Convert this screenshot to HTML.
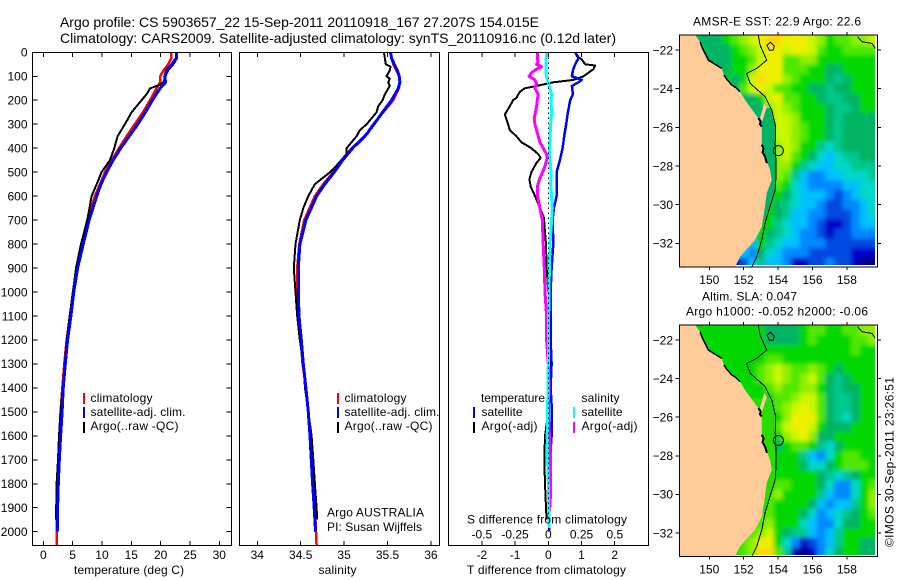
<!DOCTYPE html>
<html>
<head>
<meta charset="utf-8">
<title>Argo profile</title>
<style>
html,body{margin:0;padding:0;background:#fff;}
svg{display:block;}
text{font-family:"Liberation Sans",sans-serif;font-size:12px;fill:#000;}
.t{font-size:14px;}
</style>
</head>
<body>
<svg id="fig" xmlns="http://www.w3.org/2000/svg" width="900" height="580" viewBox="0 0 900 580">
<defs>
<filter id="soft" x="-5%" y="-5%" width="110%" height="110%"><feGaussianBlur stdDeviation="2"/></filter>
<clipPath id="clipMapA"><rect x="679.5" y="35" width="195.5" height="230"/></clipPath>
<clipPath id="clipMapB"><rect x="679.5" y="324.5" width="195.5" height="230.5"/></clipPath>
<clipPath id="clipP1"><rect x="32.5" y="52" width="199" height="494"/></clipPath>
<clipPath id="clipP2"><rect x="239.5" y="52" width="200" height="494"/></clipPath>
<clipPath id="clipP3"><rect x="448.5" y="52" width="200" height="494"/></clipPath>
</defs>
<rect width="900" height="580" fill="#fff"/>
<text class="t" x="60" y="27" textLength="479" lengthAdjust="spacing">Argo profile: CS 5903657_22 15-Sep-2011 20110918_167 27.207S 154.015E</text>
<text class="t" x="60" y="43" textLength="556" lengthAdjust="spacing">Climatology: CARS2009. Satellite-adjusted climatology: synTS_20110916.nc (0.12d later)</text>

<g id="layerP1" clip-path="url(#clipP1)"></g>
<g id="layerP2" clip-path="url(#clipP2)"></g>
<g id="layerP3" clip-path="url(#clipP3)"></g>
<g id="axes"></g>

<text x="74" y="574" textLength="110">temperature (deg C)</text>
<text x="318.5" y="574" textLength="38">salinity</text>
<text x="467" y="574" textLength="159">T difference from climatology</text>
<text x="467" y="523.5" textLength="160">S difference from climatology</text>

<g>
<rect x="83" y="393" width="2" height="11" fill="#f00"/>
<rect x="83" y="407" width="2" height="11" fill="#00f"/>
<rect x="83" y="422" width="2" height="11" fill="#000"/>
<text x="90.5" y="402" textLength="62">climatology</text>
<text x="90.5" y="416" textLength="95">satellite-adj. clim.</text>
<text x="90.5" y="430" textLength="88">Argo(..raw -QC)</text>
</g>
<g>
<rect x="337" y="393" width="2" height="11" fill="#f00"/>
<rect x="337" y="407" width="2" height="11" fill="#00f"/>
<rect x="337" y="422" width="2" height="11" fill="#000"/>
<text x="344.5" y="402" textLength="62">climatology</text>
<text x="344.5" y="416" textLength="95">satellite-adj. clim.</text>
<text x="344.5" y="430" textLength="88">Argo(..raw -QC)</text>
<text x="327" y="516.5" textLength="97">Argo AUSTRALIA</text>
<text x="327" y="531" textLength="95">PI: Susan Wijffels</text>
</g>
<g>
<text x="481" y="402" textLength="64">temperature</text>
<rect x="473" y="407" width="2" height="11" fill="#00f"/>
<text x="481.5" y="416" textLength="41">satellite</text>
<rect x="473" y="422" width="2" height="11" fill="#000"/>
<text x="481.5" y="430" textLength="56">Argo(-adj)</text>
<text x="581.5" y="402" textLength="38">salinity</text>
<rect x="573" y="407" width="2" height="11" fill="#0ff"/>
<text x="581.5" y="416" textLength="41">satellite</text>
<rect x="573" y="422" width="2" height="11" fill="#f0f"/>
<text x="581.5" y="430" textLength="56">Argo(-adj)</text>
</g>

<g id="mapA"></g>
<g id="mapB"></g>
<text x="693" y="25.5" textLength="168">AMSR-E SST: 22.9 Argo: 22.6</text>
<text x="702" y="300.5" textLength="95">Altim. SLA: 0.047</text>
<text x="686" y="315.5" textLength="182">Argo h1000: -0.052 h2000: -0.06</text>
<text transform="translate(893.5 547) rotate(-90)" textLength="170">©IMOS 30-Sep-2011 23:26:51</text>
</svg>

<script>
// ---- profile data (depth in m, temperature in deg C, salinity in psu) ----
const depthClim = [0,25,50,75,100,125,150,200,250,300,350,400,450,500,550,600,700,800,900,1000,1100,1200,1300,1400,1500,1600,1700,1800,1900,2000,2057];
const depthSat = [0,25,50,75,100,125,150,200,250,300,350,400,450,500,550,600,700,800,900,1000,1100,1200,1300,1400,1500,1600,1700,1800,1900,2000];
const tempClim = [21.8,21.8,21.3,20.5,19.9,19.9,19.3,18.2,17.0,15.6,14.2,12.9,11.65,10.5,9.66,8.8,7.5,6.53,5.68,5.06,4.55,3.98,3.58,3.24,2.95,2.73,2.56,2.39,2.33,2.27,2.27];
const tempSat = [22.67,22.67,21.9,21.0,20.7,20.85,19.9,18.6,17.4,16.1,14.66,13.2,11.9,10.8,9.83,9.1,7.8,6.8,5.85,5.2,4.7,4.15,3.75,3.4,3.2,2.95,2.73,2.56,2.44,2.39];
const depthArgoT = [0,25,50,75,90,110,125,135,150,175,200,250,300,350,400,450,500,550,600,700,800,900,1000,1100,1200,1300,1400,1500,1600,1700,1800,1900,1950];
const tempArgo = [22.67,22.8,22.16,21.3,21,20.7,20.45,19.9,18.2,17.6,16.76,15.06,13.9,12.67,12.1,11.36,9.94,9.1,8.24,7.5,6.42,5.57,5.06,4.49,3.98,3.64,3.3,2.95,2.67,2.5,2.27,2.2,2.2];
const salClim = [35.535,35.547,35.566,35.6,35.635,35.643,35.63,35.566,35.45,35.336,35.24,35.086,34.97,34.875,34.76,34.664,34.54,34.484,34.46,34.46,34.47,34.5,34.522,34.56,34.587,34.607,34.626,34.637,34.664,34.676,34.683];
const salSat = [35.535,35.547,35.578,35.612,35.635,35.643,35.624,35.547,35.443,35.344,35.24,35.098,34.983,34.887,34.779,34.683,34.56,34.491,34.472,34.472,34.48,34.507,34.53,34.56,34.587,34.607,34.622,34.637,34.656,34.672];
const depthArgoS = [0,25,50,60,75,100,110,125,140,175,200,225,250,300,325,350,400,425,450,500,550,600,650,700,800,900,1000,1100,1200,1300,1400,1500,1600,1700,1800,1900,1950];
const salArgo = [35.459,35.47,35.48,35.535,35.527,35.489,35.527,35.508,35.527,35.47,35.443,35.393,35.374,35.26,35.182,35.144,35.029,35.029,34.97,34.84,34.664,34.587,34.53,34.49,34.44,34.42,34.44,34.46,34.49,34.53,34.55,34.587,34.626,34.645,34.664,34.683,34.69];
const depthDiffTArgo = [0,20,30,50,55,70,85,100,115,125,140,150,165,190,200,225,260,300,325,350,375,400,425,440,460,500,530,560,600,650,690,750,800,900,1000,1100,1200,1300,1400,1500,1600,1700,1800,1900,1950];
const diffTArgo = [0.81,0.91,1.01,1.11,1.41,1.36,1.21,1.06,0.76,0.15,-0.35,-0.71,-0.86,-0.96,-1.06,-1.16,-1.31,-1.21,-1.16,-0.96,-0.81,-0.51,-0.3,-0.23,-0.35,-0.51,-0.57,-0.53,-0.4,-0.25,-0.13,-0.1,-0.07,-0.05,0,0.03,0.05,0.07,0.05,0,-0.1,-0.12,-0.1,-0.07,-0.05];
const depthDiffTSat = [0,25,50,75,100,115,125,140,175,200,250,300,350,400,450,500,550,600,650,700,800,900,1000,1100,1200,1300,1400,1500,1600,1700,1800,1900,2000];
const diffTSat = [0.81,0.91,0.81,0.74,0.71,1.01,0.91,0.71,0.74,0.66,0.59,0.54,0.48,0.43,0.35,0.25,0.25,0.25,0.17,0.13,0.15,0.1,0.07,0.08,0.07,0.1,0.07,0.11,0.1,0.05,0.05,0.03,0.02];
const depthDiffSSat = [0,50,100,125,150,175,200,250,300,350,400,450,500,550,600,650,700,800,900,1000,1100,1200,1300,1400,1500,1600,1700,1800,1900,1985];
const diffSSat = [-0.013,-0.018,-0.015,0,0.013,0.025,0.02,0.025,0.018,0.013,0.008,0.013,0.02,0.018,0.025,0.03,0.025,0.013,0.008,0.005,0.003,0,0,-0.003,-0.005,-0.008,-0.005,0,0.003,0.005];
const depthDiffSArgo = [0,25,40,50,60,70,85,100,115,130,150,175,200,225,250,275,300,325,350,375,400,425,440,475,500,525,560,600,650,700,800,900,1000,1100,1200,1300,1400,1500,1600,1700,1800,1900];
const diffSArgo = [-0.081,-0.083,-0.076,-0.088,-0.05,-0.088,-0.126,-0.144,-0.101,-0.088,-0.101,-0.076,-0.083,-0.088,-0.096,-0.106,-0.101,-0.088,-0.076,-0.063,-0.038,-0.013,-0.008,-0.025,-0.043,-0.063,-0.083,-0.081,-0.063,-0.045,-0.038,-0.03,-0.025,-0.013,-0.013,0,0.005,0,0.008,0.018,0.018,0.013];

// ---- tick values ----
const depthTicks = [0,100,200,300,400,500,600,700,800,900,1000,1100,1200,1300,1400,1500,1600,1700,1800,1900,2000];
const tempTicks = [0,5,10,15,20,25,30];
const salTicks = [34,34.5,35,35.5,36];
const diffTTicks = [-2,-1,0,1,2];
const diffSTicks = [-0.5,-0.25,0,0.25,0.5];
const lonTicks = [150,152,154,156,158];
const latTicks = [-22,-24,-26,-28,-30,-32];

// ---- map data: one character per 0.5 degree cell, colour level 0 (coldest) .. e (warmest) ----
const mapLons = [148.5,149,149.5,150,150.5,151,151.5,152,152.5,153,153.5,154,154.5,155,155.5,156,156.5,157,157.5,158,158.5,159,159.5];
const mapLats = [-21.5,-22,-22.5,-23,-23.5,-24,-24.5,-25,-25.5,-26,-26.5,-27,-27.5,-28,-28.5,-29,-29.5,-30,-30.5,-31,-31.5,-32,-32.5,-33];
const sstRows = [
"8877789abcddcccba899aab",
"88877789abccbccb9889999",
"888777889bcc99aa8888888",
"88877788accc99988778888",
"88888878bdcca9888767888",
"88888887 9bcb99887767788".replace(" ","").slice(1),
"8888888778bc99887667788",
"8888888877aba9888766788",
"888888888"+"89bba888767777",
"888888888"+"78bba98876777 7".replace(" ",""),
"888888888"+"78bba98876777 7".replace(" ",""),
"888888888"+"68aba88656777 7".replace(" ",""),
"8888888888"+"7ab987545667 7".replace(" ",""),
"8888888888"+"8aa865445566 6".replace(" ",""),
"8888888888"+"7a964334455 56".replace(" ",""),
"8888888888"+"7985433334455",
"888888888"+"78875444323455",
"888888888"+"78765443223345",
"888888888"+"78764433222345",
"888888888"+"88654432112344",
"88888888"+"787654332122333",
"88888888"+"486544333222222",
"8888888"+"4375433322222111",
"888888"+"12464431122322100"
];
const slaRows = [
"8888888888"+"7777899889 9aa".replace(" ",""),
"8888888888"+"777789888899a",
"8888888888"+"8888888888988",
"8888888888"+"9988888888888",
"888888888"+"9aba99a9878888",
"888888888"+"9aba9ab9767888",
"888888888"+"89a99aa8767788",
"888888888"+"8899abb9766788",
"888888888"+"889abcb9766788",
"888888888"+"888accc9765788",
"888888888"+"889bccb8777888",
"888888888"+"888abca7788888",
"888888888"+"88789986578888",
"888888888"+"88888643589988",
"888888888"+"88888755789998",
"888888888"+"88888887656788",
"888888888"+"88998887533589",
"888888888"+"89a8888643358a",
"888888888"+"8988887434468a",
"888888888"+"99888753456789",
"888888888"+"9a888543357788",
"88888888"+"9ab876643468888",
"8888888"+"9acc853123468877",
"888888"+"89add961013578877"
];

// ---- coast, contour and island outlines in lon / lat ----
const coastLons = [149.17,149.46,149.65,149.94,150.72,150.85,151.3,151.79,152.08,152.85,153.05,153.05,153.24,153.53,153.63,153.34,153.24,153.05,152.66,151.79,151.5];
const coastLats = [-21.22,-21.57,-22,-22.52,-22.95,-23.29,-23.81,-24.16,-24.59,-25.53,-25.97,-26.83,-27.52,-28.2,-28.72,-29.41,-30.1,-31.14,-31.83,-32.69,-33.22];
const contourLons = [152.85,152.95,153.34,152.76,152.17,152.37,153.24,153.63,153.86,153.83,153.88,153.88,153.83,153.53,153.24,153.05,152.76,152.47];
const contourLats = [-21.22,-21.74,-22.52,-22.95,-23.21,-23.72,-24.41,-25.1,-25.97,-26.83,-27.86,-28.55,-29.24,-30.1,-30.97,-31.83,-32.69,-33.22];
const contourNeLons = [158.62,158.87,159.46,159.65];
const contourNeLats = [-21.31,-21.57,-21.66,-21.91];
const shelfLons = [153.55,153.63,153.86,153.83,153.88,153.88,153.83,153.53,153.24,152.5,152.5];
const shelfLats = [-25.0,-25.3,-25.97,-26.83,-27.86,-28.55,-29.24,-30.1,-30.97,-30.97,-25.0];
const jagNorthLons = [149.46,149.55,149.65,149.8,149.94,150.3,150.72];
const jagNorthLats = [-21.57,-21.8,-22,-22.25,-22.52,-22.72,-22.95];
const jagCentralLons = [150.85,151.0,151.3,151.55,151.79];
const jagCentralLats = [-23.29,-23.5,-23.81,-23.95,-24.16];
const jagFraserLons = [152.85,152.98,152.95,153.05];
const jagFraserLats = [-25.53,-25.7,-25.85,-25.97];
const jagMoretonLons = [153.05,153.15,153.1,153.24,153.35];
const jagMoretonLats = [-26.9,-27.1,-27.3,-27.52,-27.85];
const fraserLons = [153.2,153.35,153.05,152.95];
const fraserLats = [-24.75,-24.95,-25.75,-25.5];
const smallLoopLons = [153.35,153.55,153.78,153.72,153.5];
const smallLoopLats = [-21.75,-21.6,-21.8,-22.0,-22.02];
const profileLon = 154.015;
const profileLat = -27.207;

// ---- axis functions ----
const NS = 'http://www.w3.org/2000/svg';
const yDepth = d => 52.3 + d * 0.2397;
const xTemp = v => 43.3 + v * 5.867;
const xSal = v => 257.3 + (v - 34) * 86.8;
const xDiffT = v => 548.3 + v * 33.2;
const xDiffS = v => 548.3 + v * 133;
const xLon = v => 709.3 + (v - 150) * 17.2;
const yLatA = v => 50 + (-22 - v) * 19.33;
const yLatB = v => 340 + (-22 - v) * 19.3;

function mk(tag, parent, name) {
  const el = document.createElementNS(NS, tag);
  
  
  parent.appendChild(el);
  return el;
}
function seg(parent, name, x1, y1, x2, y2, w, dash) {
  const l = mk('line', parent, name);
  l.setAttribute('x1', x1); l.setAttribute('y1', y1);
  l.setAttribute('x2', x2); l.setAttribute('y2', y2);
  l.setAttribute('stroke', '#000');
  l.setAttribute('stroke-width', w || 1);
  l.setAttribute('shape-rendering', 'crispEdges');
  if (dash) l.setAttribute('stroke-dasharray', dash);
  return l;
}
function label(parent, name, x, y, str, anchor) {
  const t = mk('text', parent, name);
  t.setAttribute('x', x); t.setAttribute('y', y);
  if (anchor) t.setAttribute('text-anchor', anchor);
  t.textContent = str;
  return t;
}
function profile(parent, name, values, depths, xf, color, width) {
  const p = mk('polyline', parent, name);
  p.setAttribute('points', values.map((v, i) => xf(v).toFixed(1) + ',' + yDepth(depths[i]).toFixed(1)).join(' '));
  p.setAttribute('fill', 'none');
  p.setAttribute('stroke', color);
  p.setAttribute('stroke-width', width);
  p.setAttribute('stroke-linejoin', 'round');
  p.setAttribute('shape-rendering', 'crispEdges');
  return p;
}

// ---- series ----
const p1 = document.getElementById('layerP1');
const p2 = document.getElementById('layerP2');
const p3 = document.getElementById('layerP3');
profile(p1, 'temperature-climatology-line', tempClim, depthClim, xTemp, '#f00', 2.5);
profile(p1, 'temperature-argo-line', tempArgo, depthArgoT, xTemp, '#000', 2);
profile(p1, 'temperature-satellite-line', tempSat, depthSat, xTemp, '#00f', 3);
profile(p2, 'salinity-climatology-line', salClim, depthClim, xSal, '#f00', 2.5);
profile(p2, 'salinity-argo-line', salArgo, depthArgoS, xSal, '#000', 2);
profile(p2, 'salinity-satellite-line', salSat, depthSat, xSal, '#00f', 3);
profile(p3, 't-diff-argo-line', diffTArgo, depthDiffTArgo, xDiffT, '#000', 2);
profile(p3, 't-diff-satellite-line', diffTSat, depthDiffTSat, xDiffT, '#00f', 2.5);
profile(p3, 's-diff-argo-line', diffSArgo, depthDiffSArgo, xDiffS, '#f0f', 3);
profile(p3, 's-diff-satellite-line', diffSSat, depthDiffSSat, xDiffS, '#0ff', 3);

// ---- axes ----
const ax = document.getElementById('axes');
const panelBoxes = [[32.5, 231.5], [239.5, 439.5], [448.5, 648.5]];
panelBoxes.forEach(b => {
  const r = mk('rect', ax, 'plot-frame');
  r.setAttribute('x', b[0]); r.setAttribute('y', 52.5);
  r.setAttribute('width', b[1] - b[0]); r.setAttribute('height', 493);
  r.setAttribute('fill', 'none'); r.setAttribute('stroke', '#000');
  r.setAttribute('stroke-width', 1);
  r.setAttribute('shape-rendering', 'crispEdges');
});
depthTicks.forEach(d => {
  const y = yDepth(d);
  seg(ax, 'depth-tick-left', 32.5, y, 37.5, y);
  seg(ax, 'depth-tick-right', 226.5, y, 231.5, y);
  label(ax, 'depth-tick-label', 27.5, y + 4.3, String(d), 'end');
});
function xTicks(vals, xf, name) {
  vals.forEach(v => {
    const x = xf(v);
    seg(ax, name + '-tick-top', x, 52.5, x, 57);
    seg(ax, name + '-tick-bottom', x, 541, x, 545.5);
    label(ax, name + '-tick-label', x, 559, String(v), 'middle');
  });
}
xTicks(tempTicks, xTemp, 'temperature');
xTicks(salTicks, xSal, 'salinity');
xTicks(diffTTicks, xDiffT, 't-difference');
diffSTicks.forEach(v => {
  label(ax, 's-difference-tick-label', xDiffS(v), 538.5, String(v), 'middle');
});
seg(ax, 'zero-difference-line', xDiffT(0), 52.5, xDiffT(0), 520, 1, '1.5 3.5');

// ---- maps ----
const levelColor = {'0':'#00008c','1':'#0000c8','2':'#0048e0','3':'#0088ff','4':'#00c0ff','5':'#00d8c8','6':'#00c88c','7':'#00b464','8':'#00d800','9':'#50e800','a':'#90f000','b':'#c8f800','c':'#eef000','d':'#ffd800','e':'#ffb000'};
function ptsOf(lons, lats, yLat) {
  return lons.map((v, i) => xLon(v).toFixed(1) + ',' + yLat(lats[i]).toFixed(1)).join(' ');
}
function drawMap(id, rows, yLat, clipId, cellName, shelfColor) {
  const g = document.getElementById(id);
  const clip = mk('g', g, 'map-clip');
  clip.setAttribute('clip-path', 'url(#' + clipId + ')');
  const heat = mk('g', clip, 'map-heat');
  heat.setAttribute('filter', 'url(#soft)');
  rows.forEach((row, r) => {
    mapLons.forEach((lon, c) => {
      const cell = mk('rect', heat, cellName);
      let x0 = xLon(lon - 0.25), x1 = xLon(lon + 0.25);
      let y0 = yLat(mapLats[r] + 0.25), y1 = yLat(mapLats[r] - 0.25);
      if (c === 0) x0 -= 12;
      if (c === mapLons.length - 1) x1 += 12;
      if (r === 0) y0 -= 12;
      if (r === rows.length - 1) y1 += 12;
      cell.setAttribute('x', x0.toFixed(1));
      cell.setAttribute('y', y0.toFixed(1));
      cell.setAttribute('width', (x1 - x0 + 0.5).toFixed(1));
      cell.setAttribute('height', (y1 - y0 + 0.5).toFixed(1));
      cell.setAttribute('fill', levelColor[row[c]] || '#00d800');
    });
  });
  const shelf = mk('polygon', clip, 'continental-shelf');
  shelf.setAttribute('points', ptsOf(shelfLons, shelfLats, yLat));
  shelf.setAttribute('fill', shelfColor);
  const top = yLat(-21.22), bottom = yLat(-33.23);
  const land = mk('polygon', g, 'australia-land');
  land.setAttribute('points', '679.5,' + top + ' ' + ptsOf(coastLons, coastLats, yLat) + ' ' + xLon(151.5) + ',' + bottom + ' 679.5,' + bottom);
  land.setAttribute('fill', '#ffcc99');
  const island = mk('polygon', g, 'fraser-island');
  island.setAttribute('points', ptsOf(fraserLons, fraserLats, yLat));
  island.setAttribute('fill', '#ffcc99');
  function stroke(name, lons, lats, w) {
    const p = mk('polyline', g, name);
    p.setAttribute('points', ptsOf(lons, lats, yLat));
    p.setAttribute('fill', 'none');
    p.setAttribute('stroke', '#000');
    p.setAttribute('stroke-width', w);
    p.setAttribute('shape-rendering', 'crispEdges');
  }
  stroke('shelf-contour', contourLons, contourLats, 1);
  stroke('shelf-contour-northeast', contourNeLons, contourNeLats, 1);
  stroke('coast-north', jagNorthLons, jagNorthLats, 1.5);
  stroke('coast-central', jagCentralLons, jagCentralLats, 1.5);
  stroke('coast-fraser', jagFraserLons, jagFraserLats, 2);
  stroke('coast-moreton', jagMoretonLons, jagMoretonLats, 2);
  const loop = mk('polygon', g, 'contour-loop');
  loop.setAttribute('points', ptsOf(smallLoopLons, smallLoopLats, yLat));
  loop.setAttribute('fill', 'none');
  loop.setAttribute('stroke', '#000');
  const marker = mk('circle', g, 'argo-profile-marker');
  marker.setAttribute('cx', xLon(profileLon));
  marker.setAttribute('cy', yLat(profileLat));
  marker.setAttribute('r', 5);
  marker.setAttribute('fill', 'none');
  marker.setAttribute('stroke', '#000');
  const frame = mk('rect', g, 'map-frame');
  frame.setAttribute('x', 679.5); frame.setAttribute('y', top);
  frame.setAttribute('width', 198); frame.setAttribute('height', bottom - top);
  frame.setAttribute('fill', 'none'); frame.setAttribute('stroke', '#000');
  frame.setAttribute('shape-rendering', 'crispEdges');
  lonTicks.forEach(v => {
    const x = xLon(v);
    seg(g, 'longitude-tick-top', x, top - 3, x, top);
    seg(g, 'longitude-tick-bottom', x, bottom, x, bottom + 3);
    label(g, 'longitude-tick-label', x, bottom + 17, String(v), 'middle');
  });
  latTicks.forEach(v => {
    const y = yLat(v);
    seg(g, 'latitude-tick-left', 675.5, y, 679.5, y);
    seg(g, 'latitude-tick-right', 877.5, y, 881, y);
    label(g, 'latitude-tick-label', 673, y + 4.3, '\u2212' + Math.abs(v), 'end');
  });
}
drawMap('mapA', sstRows, yLatA, 'clipMapA', 'sst-cell', '#00b464');
drawMap('mapB', slaRows, yLatB, 'clipMapB', 'sla-cell', '#28dc00');
</script>
</body>
</html>
